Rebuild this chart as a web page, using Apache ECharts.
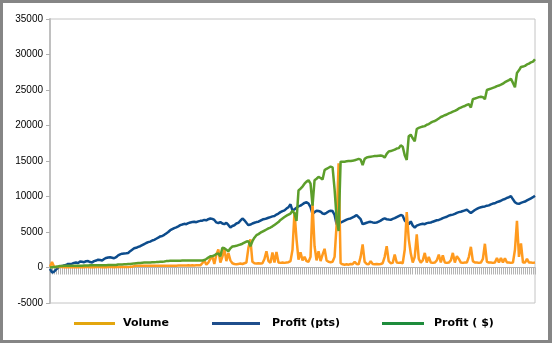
<!DOCTYPE html>
<html>
<head>
<meta charset="utf-8">
<script src="https://cdn.jsdelivr.net/npm/echarts@6/dist/echarts.min.js"></script>
<style>
  html, body { margin: 0; padding: 0; background: #fff; }
  #wrap { position: relative; width: 552px; height: 343px; }
  #chart { position: absolute; left: 0; top: 0; width: 552px; height: 343px; }
  #frame { position: absolute; left: 0; top: 0; width: 552px; height: 343px; box-sizing: border-box;
           border: 3px solid #858585; border-right-width: 4px; pointer-events: none; }
</style>
</head>
<body>
<div id="wrap">
  <div id="chart"></div>
  <div id="frame"></div>
</div>
<script>
// Trade-by-trade series (one entry per trade)
const profitPts = [
  -200, -700, -600, -300, -50, 150, 200, 300, 350, 500,
  480, 550, 650, 700, 620, 850, 800, 750, 880, 900,
  760, 720, 900, 980, 1100, 1050, 1000, 1200, 1350, 1420,
  1450, 1380, 1300, 1450, 1700, 1850, 1950, 1980, 2000, 2050,
  2300, 2500, 2700, 2770, 2900, 3000, 3150, 3300, 3450, 3570,
  3650, 3800, 3900, 4050, 4200, 4380, 4430, 4600, 4800, 5000,
  5250, 5400, 5550, 5650, 5800, 5960, 6050, 6150, 6100, 6250,
  6340, 6400, 6450, 6380, 6500, 6570, 6600, 6700, 6650, 6800,
  6900, 6850, 6700, 6350, 6240, 6400, 6200, 6100, 6300, 6000,
  5630, 5850, 5950, 6200, 6300, 6600, 6900, 6650, 6300, 5960,
  6050, 6200, 6300, 6400, 6450, 6600, 6750, 6820, 6900, 7000,
  7100, 7200, 7250, 7450, 7600, 7800, 7950, 8050, 8300, 8500,
  8900, 8000, 8200, 8400, 8630, 8710, 8900, 9100, 9200, 9000,
  8500, 7530, 7800, 8000, 7950, 7860, 7600, 7550, 7700, 7900,
  8000, 7950, 7400, 6100, 6000, 6340, 6450, 6600, 6750, 6850,
  6910, 7050, 7200, 7390, 7100, 6800, 6100, 6200, 6300, 6400,
  6430, 6350, 6300, 6340, 6450, 6600, 6800, 6910, 6800, 6750,
  6710, 6850, 6950, 7100, 7250, 7390, 7300, 6600, 6340, 6100,
  6500, 5900, 5630, 5900, 6000, 6100, 6150, 6100, 6250, 6300,
  6340, 6450, 6550, 6650, 6700, 6810, 6950, 7050, 7150, 7300,
  7390, 7450, 7550, 7700, 7800, 7860, 7950, 8050, 8140, 7900,
  7670, 7900, 8100, 8250, 8400, 8490, 8550, 8600, 8710, 8750,
  8900, 9000, 9050, 9200, 9300, 9400, 9550, 9650, 9800, 9900,
  10050, 9600, 9200, 9000, 8960, 9100, 9200, 9290, 9450, 9600,
  9750, 9900, 10100
];

const profitUsd = [
  0, 50, 80, 100, 150, 200, 220, 230, 240, 240,
  240, 250, 250, 250, 250, 250, 260, 270, 280, 290,
  300, 300, 310, 310, 320, 320, 320, 330, 330, 340,
  340, 340, 340, 350, 420, 430, 440, 450, 460, 480,
  500, 540, 580, 610, 630, 650, 670, 690, 700, 710,
  720, 740, 750, 760, 780, 800, 820, 850, 900, 930,
  950, 960, 960, 960, 960, 960, 970, 970, 975, 980,
  980, 985, 990, 990, 995, 1000, 1000, 1050, 1200, 1400,
  1570, 1600, 1700, 1900, 1960, 1570, 2770, 2700, 2500, 2290,
  2700, 2950, 3000, 3050, 3150, 3240, 3350, 3500, 3650, 3710,
  3000, 3700, 4200, 4550, 4700, 4900, 5050, 5200, 5350, 5500,
  5630, 5800, 6000, 6200, 6400, 6700, 6900, 7100, 7300, 7450,
  7600, 8000, 7600, 6570, 10860, 11100, 11400, 11800, 12100, 12290,
  11810, 8710, 12290, 12500, 12770, 12600, 12400, 13710, 13900, 14050,
  14200, 14100, 11000, 7000, 5140, 14910, 14900, 14900, 14950, 15000,
  15000, 15050, 15100, 15200, 15300, 15200, 14430, 15300, 15490, 15550,
  15600, 15650, 15700, 15700, 15750, 15770, 15700, 15490, 16000, 16340,
  16400, 16500, 16600, 16750, 16810, 17200, 17000, 15800, 15140, 18490,
  18700, 18200, 17770, 19500, 19670, 19770, 19850, 19910, 20100, 20200,
  20400, 20550, 20630, 20800, 21000, 21200, 21300, 21450, 21550, 21700,
  21810, 21950, 22050, 22200, 22400, 22530, 22650, 22750, 22900, 23000,
  22530, 23710, 23800, 23900, 24000, 24060, 24000, 23710, 25000, 25100,
  25200, 25300, 25400, 25550, 25630, 25750, 25900, 26100, 26250, 26400,
  26570, 26000, 25390, 27400, 27770, 28240, 28300, 28400, 28600, 28710,
  28900, 29000, 29340
];

const volume = [
  100, 770, 150, 80, 60, 80, 60, 50, 60, 50,
  70, 50, 60, 50, 60, 50, 60, 50, 70, 60,
  50, 60, 50, 60, 70, 60, 50, 60, 50, 60,
  70, 60, 50, 60, 80, 70, 60, 70, 80, 70,
  90, 120, 200, 240, 230, 240, 250, 230, 240, 250,
  240, 230, 240, 250, 240, 230, 250, 240, 250, 260,
  250, 260, 250, 260, 270, 280, 290, 280, 290, 300,
  290, 300, 290, 300, 310, 300, 600, 1000, 400, 700,
  1200, 1570, 500, 1810, 2530, 700, 1500, 2630, 900, 2050,
  1000, 600, 500, 450, 500, 550, 500, 600, 700, 2770,
  3960, 800, 600, 550, 600, 550, 600, 1200, 2290, 900,
  650, 2100, 700, 2200, 700, 650, 700, 650, 700, 750,
  900, 2500, 7800, 4000, 1100, 2140, 1000, 1500, 900, 800,
  1500, 9000, 3000, 1000, 2290, 900, 1800, 2630, 1000, 800,
  750, 800, 1500, 6000, 14670, 600, 450, 400, 450, 400,
  500, 450, 800, 500, 450, 1500, 3240, 800, 500, 450,
  900, 500, 450, 500, 450, 500, 600, 1500, 3000, 900,
  600, 650, 1810, 700, 650, 700, 600, 2500, 7800, 4000,
  2000, 700, 1500, 4670, 1200, 700, 1000, 2050, 700, 1490,
  700, 650, 700, 1000, 1810, 700, 1700, 700, 650, 700,
  1000, 2050, 700, 1600, 1200, 700, 650, 700, 700, 1500,
  2910, 900, 700, 700, 650, 700, 1200, 3340, 800, 700,
  700, 650, 700, 1340, 700, 1340, 700, 1300, 700, 700,
  650, 700, 2500, 6570, 1500, 3400, 700, 700, 1200, 700,
  700, 650, 700
];

const trades = volume.map((_, i) => String(i + 1));

const COLORS = { volume: '#FF9A1E', pts: '#0D4C8C', usd: '#5C9E2B' };
const LEGEND_COLORS = { volume: '#E3A60F', pts: '#1F4E8C', usd: '#1E8C3C' };

const chart = echarts.init(document.getElementById('chart'), null, { renderer: 'canvas' });

function legendBlock(name, color, left, width, gap) {
  return {
    data: [{ name: name, itemStyle: { color: color } }],
    left: left, top: 318, padding: 0,
    icon: 'rect', itemWidth: width, itemHeight: 3,
    selectedMode: false,
    textStyle: { fontFamily: 'DejaVu Sans', fontSize: 11, fontWeight: 'bold', color: '#000',
                 padding: [0, 0, 0, gap] }
  };
}

chart.setOption({
  animation: false,
  backgroundColor: '#fff',
  grid: { left: 50, right: 17, top: 19, bottom: 40, show: true, borderColor: '#c4c4c4', borderWidth: 1 },
  legend: [
    legendBlock('Volume', LEGEND_COLORS.volume, 74, 41, 3),
    legendBlock('Profit (pts)', LEGEND_COLORS.pts, 212, 48, 7),
    legendBlock('Profit ( $)', LEGEND_COLORS.usd, 382, 42, 5)
  ],
  xAxis: {
    type: 'category', data: trades, boundaryGap: false,
    axisLine: { onZero: true, lineStyle: { color: '#b0b0b0', width: 1 } },
    axisTick: { show: true, interval: 0, length: 7, lineStyle: { color: '#b4b4b4' } },
    axisLabel: { show: false },
    splitLine: { show: false }
  },
  yAxis: {
    type: 'value', min: -5000, max: 35000, interval: 5000,
    axisLine: { show: true, lineStyle: { color: '#c0c0c0', width: 2 } },
    axisTick: { show: true, length: 4, lineStyle: { color: '#b0b0b0' } },
    axisLabel: { margin: 7, fontFamily: 'Liberation Sans', fontSize: 10, color: '#000',
                 formatter: v => String(v) },
    splitLine: { show: false }
  },
  series: [
    { name: 'Profit (pts)', type: 'line', data: profitPts, showSymbol: false,
      lineStyle: { color: COLORS.pts, width: 2.5 }, itemStyle: { color: COLORS.pts } },
    { name: 'Volume', type: 'line', data: volume, showSymbol: false,
      lineStyle: { color: COLORS.volume, width: 2.5 }, itemStyle: { color: COLORS.volume } },
    { name: 'Profit ( $)', type: 'line', data: profitUsd, showSymbol: false,
      lineStyle: { color: COLORS.usd, width: 2.5 }, itemStyle: { color: COLORS.usd } }
  ]
});
</script>
</body>
</html>
